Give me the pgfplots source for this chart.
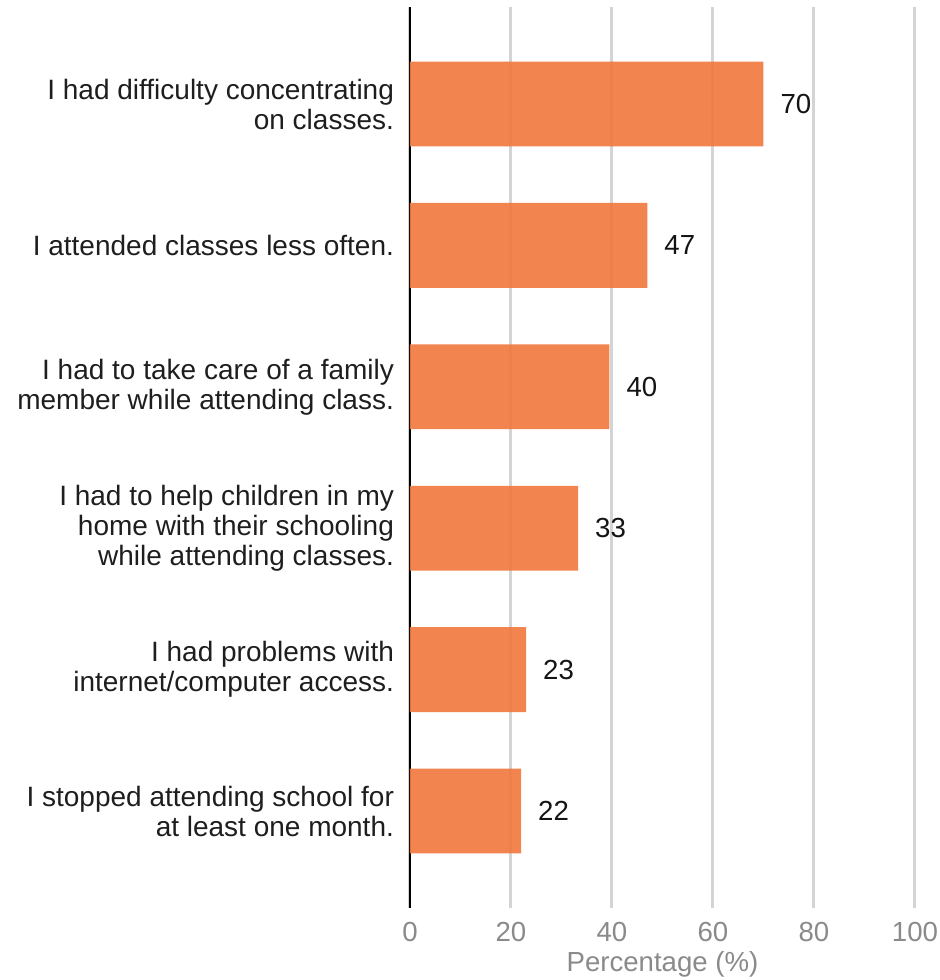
\documentclass[border=0pt]{standalone}
\usepackage{pgfplots}
\pgfplotsset{compat=1.18}
\usepackage{fontspec}
\setmainfont{Liberation Sans}
\definecolor{barc}{HTML}{F07A40}
\definecolor{tickc}{HTML}{8A8A8A}
\definecolor{gridc}{HTML}{D4D4D4}
\definecolor{txtc}{HTML}{1E1E1E}
\begin{document}
\begin{tikzpicture}
\begin{axis}[
  scale only axis,
  width=252.5pt, height=450.5pt,
  xbar, bar width=0.6,
  xmin=0, xmax=100,
  ymin=-0.686, ymax=5.686,
  y dir=reverse,
  axis lines*=left,
  x axis line style={draw=none},
  y axis line style={draw=black, line width=1pt},
  major tick length=0pt,
  xtick={0,20,40,60,80,100},
  ytick={0,1,2,3,4,5},
  yticklabels={{I had difficulty concentrating\\on classes.},
               {I attended classes less often.},
               {I had to take care of a family\\member while attending class.},
               {I had to help children in my\\home with their schooling\\while attending classes.},
               {I had problems with\\internet/computer access.},
               {I stopped attending school for\\at least one month.}},
  yticklabel style={align=right, font=\fontsize{14}{15}\selectfont, text=txtc, xshift=-4.5pt},
  xticklabel style={font=\fontsize{13.8}{15}\selectfont, text=tickc, yshift=-3.5pt},
  /pgf/number format/assume math mode=true,
  xmajorgrids,
  grid style={line width=1.5pt, color=gridc},
  xlabel={Percentage (\%)},
  xlabel style={font=\fontsize{13.8}{15}\selectfont, text=tickc, yshift=2pt},
  point meta=explicit symbolic,
  nodes near coords,
  nodes near coords style={font=\fontsize{13.8}{15}\selectfont, text=black, anchor=west, xshift=5pt},
  clip=false,
]
\addplot[draw=none, fill=barc, fill opacity=0.92] coordinates {
  (70,0) [70] (47,1) [47] (39.5,2) [40] (33.3,3) [33] (23,4) [23] (22,5) [22]};
\end{axis}
\pgfresetboundingbox
\useasboundingbox ([xshift=-205pt,yshift=-36pt]current axis.south west) rectangle ([xshift=12.5pt,yshift=3.5pt]current axis.north east);
\end{tikzpicture}
\end{document}
